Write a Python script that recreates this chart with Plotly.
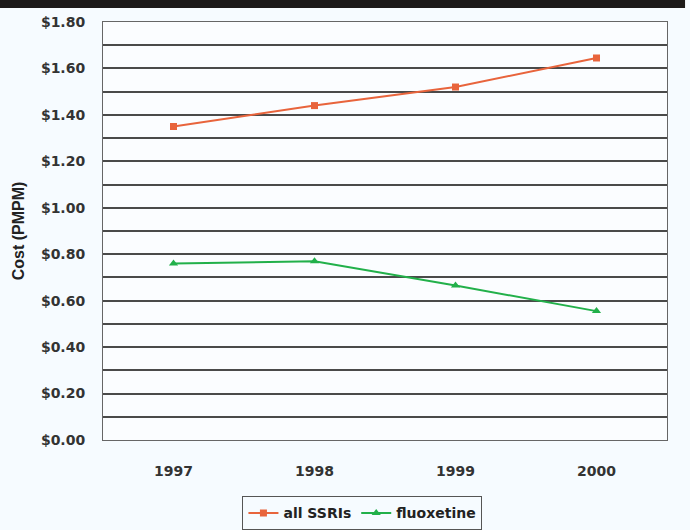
import plotly.graph_objects as go

years = ["1997", "1998", "1999", "2000"]
all_ssris = [1.35, 1.44, 1.52, 1.645]
fluoxetine = [0.76, 0.77, 0.665, 0.555]
y_ticks = [0.0, 0.2, 0.4, 0.6, 0.8, 1.0, 1.2, 1.4, 1.6, 1.8]
y_labels = ["$%.2f" % v for v in y_ticks]

fig = go.Figure()
fig.add_trace(go.Scatter(x=years, y=all_ssris, name="<b>all SSRIs</b>", mode="lines+markers",
                         line=dict(color="#e8643c", width=2),
                         marker=dict(symbol="square", size=7, color="#e8643c")))
fig.add_trace(go.Scatter(x=years, y=fluoxetine, name="<b>fluoxetine</b>", mode="lines+markers",
                         line=dict(color="#22b04a", width=2),
                         marker=dict(symbol="triangle-up", size=8, color="#22b04a")))

fig.update_layout(
    width=690, height=530,
    margin=dict(l=103, r=23, t=22, b=90, autoexpand=False),
    paper_bgcolor="#f6fbff", plot_bgcolor="#fbfdff",
    font=dict(family="DejaVu Sans, sans-serif", size=14, color="#333333"),
    showlegend=True,
    legend=dict(orientation="h", x=0.46, xanchor="center", y=-0.135, yanchor="top",
                bordercolor="#555555", borderwidth=1, bgcolor="rgba(255,255,255,0)",
                font=dict(size=14, color="#222222"), itemwidth=30,
                tracegroupgap=0),
    xaxis=dict(type="category", range=[-0.5, 3.5], showgrid=False, showline=True,
               linecolor="#666666", linewidth=1, mirror=True,
               ticks="outside", ticklen=18, tickcolor="rgba(0,0,0,0)",
               tickfont=dict(size=14, color="#333333"),
               tickprefix="<b>", ticksuffix="</b>"),
    yaxis=dict(range=[0, 1.8], tickvals=y_ticks, ticktext=["<b>%s</b>" % t for t in y_labels],
               showgrid=True, gridcolor="#4a4a4a", gridwidth=1.5,
               minor=dict(dtick=0.1, showgrid=True, gridcolor="#4a4a4a", gridwidth=1.5),
               showline=True, linecolor="#666666", linewidth=1, mirror=True,
               ticks="outside", ticklen=14, tickcolor="rgba(0,0,0,0)",
               tickfont=dict(size=14, color="#333333"),
               title=dict(text="<b>Cost (PMPM)</b>",
                          font=dict(family="Liberation Sans, Arial, sans-serif", size=16, color="#222222"),
                          standoff=12)),
    shapes=[dict(type="rect", xref="paper", yref="paper", x0=-0.2, x1=1.032,
                 y0=1.0 + 14 / 418, y1=1.0 + 24 / 418, fillcolor="#1c1a1a", line=dict(width=0))],
)

fig.write_html("out.html")
